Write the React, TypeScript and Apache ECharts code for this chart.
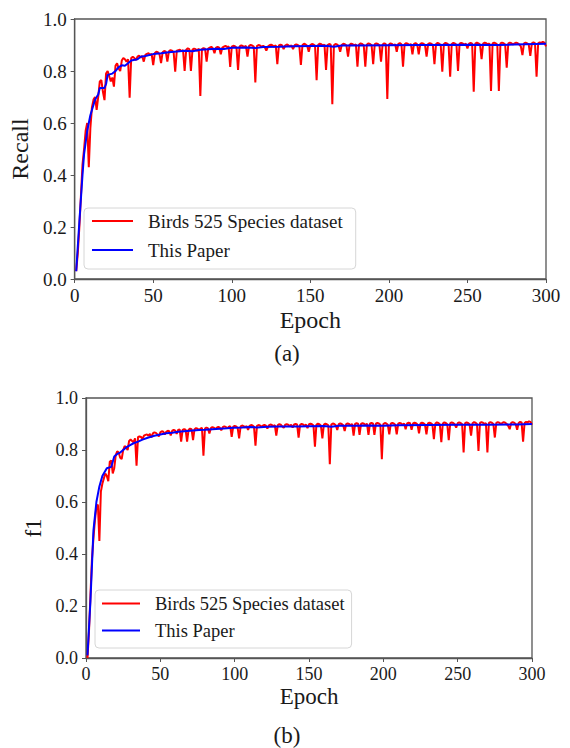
import React, { useEffect, useRef } from "react";
import * as echarts from "echarts";

const FONT = "Liberation Serif";

const seriesNames = ["Birds 525 Species dataset", "This Paper"];
const panelLabels = ["(a)", "(b)"];
const yNames = ["Recall", "f1"];
const xName = "Epoch";

// Recall, Birds 525 Species dataset (epochs 1..300)
const recallBirds = [
  0.03, 0.10, 0.20, 0.32, 0.44, 0.50, 0.57, 0.60, 0.43, 0.58,
  0.66, 0.69, 0.70, 0.65, 0.70, 0.76, 0.765, 0.72, 0.688, 0.79,
  0.80, 0.78, 0.76, 0.775, 0.74, 0.82, 0.83, 0.81, 0.80, 0.84,
  0.85, 0.845, 0.836, 0.845, 0.697, 0.85, 0.855, 0.85, 0.842, 0.855,
  0.859, 0.852, 0.858, 0.836, 0.862, 0.866, 0.868, 0.862, 0.866, 0.823,
  0.868, 0.874, 0.872, 0.865, 0.830, 0.872, 0.877, 0.874, 0.836, 0.876,
  0.880, 0.878, 0.872, 0.797, 0.878, 0.880, 0.882, 0.876, 0.880, 0.800,
  0.882, 0.887, 0.884, 0.800, 0.882, 0.886, 0.884, 0.878, 0.886, 0.704,
  0.884, 0.888, 0.886, 0.836, 0.886, 0.890, 0.893, 0.887, 0.868, 0.890,
  0.893, 0.890, 0.864, 0.890, 0.894, 0.897, 0.892, 0.895, 0.816, 0.894,
  0.897, 0.895, 0.890, 0.804, 0.895, 0.898, 0.896, 0.892, 0.897, 0.855,
  0.897, 0.900, 0.898, 0.894, 0.756, 0.896, 0.900, 0.898, 0.893, 0.897,
  0.892, 0.878, 0.894, 0.899, 0.901, 0.898, 0.894, 0.899, 0.826, 0.898,
  0.901, 0.899, 0.884, 0.898, 0.902, 0.899, 0.895, 0.899, 0.884, 0.899,
  0.902, 0.900, 0.896, 0.823, 0.900, 0.905, 0.902, 0.897, 0.874, 0.900,
  0.904, 0.902, 0.897, 0.765, 0.901, 0.905, 0.903, 0.898, 0.902, 0.804,
  0.900, 0.904, 0.901, 0.672, 0.899, 0.904, 0.902, 0.897, 0.874, 0.900,
  0.905, 0.903, 0.898, 0.855, 0.901, 0.905, 0.903, 0.899, 0.903, 0.817,
  0.902, 0.906, 0.904, 0.899, 0.817, 0.902, 0.906, 0.904, 0.899, 0.826,
  0.903, 0.906, 0.904, 0.899, 0.836, 0.902, 0.906, 0.904, 0.692, 0.902,
  0.906, 0.904, 0.899, 0.903, 0.874, 0.904, 0.907, 0.903, 0.817, 0.903,
  0.907, 0.905, 0.900, 0.904, 0.864, 0.904, 0.907, 0.903, 0.864, 0.904,
  0.907, 0.905, 0.900, 0.855, 0.904, 0.907, 0.905, 0.900, 0.826, 0.904,
  0.908, 0.905, 0.900, 0.797, 0.904, 0.908, 0.906, 0.901, 0.778, 0.904,
  0.908, 0.906, 0.901, 0.800, 0.905, 0.908, 0.906, 0.901, 0.905, 0.887,
  0.905, 0.908, 0.905, 0.720, 0.905, 0.909, 0.906, 0.902, 0.846, 0.905,
  0.909, 0.907, 0.902, 0.906, 0.723, 0.906, 0.909, 0.906, 0.902, 0.723,
  0.906, 0.909, 0.907, 0.902, 0.813, 0.906, 0.909, 0.907, 0.902, 0.906,
  0.909, 0.907, 0.902, 0.895, 0.861, 0.906, 0.909, 0.906, 0.902, 0.858,
  0.906, 0.910, 0.907, 0.778, 0.906, 0.910, 0.908, 0.912, 0.909, 0.895,
];

// Recall, This Paper
const recallPaperEpochs = [
  1, 3, 5, 6, 8, 10, 11, 13, 15, 16, 19, 20, 21, 24, 26, 28, 30, 32, 34, 36,
  40, 42, 45, 50, 55, 60, 65, 70, 75, 80, 85, 90, 95, 100, 110, 115, 120, 130,
  140, 150, 160, 165, 170, 180, 200, 220, 250, 270, 280, 300,
];
const recallPaperValues = [
  0.03, 0.22, 0.40, 0.48, 0.57, 0.63, 0.65, 0.69, 0.71, 0.735, 0.735, 0.75, 0.785, 0.79, 0.80, 0.815, 0.822, 0.82, 0.83, 0.84,
  0.845, 0.855, 0.858, 0.865, 0.868, 0.872, 0.875, 0.878, 0.876, 0.882, 0.884, 0.886, 0.885, 0.889, 0.890, 0.888, 0.892, 0.893,
  0.895, 0.896, 0.897, 0.893, 0.898, 0.898, 0.899, 0.900, 0.901, 0.900, 0.902, 0.905,
];

// f1, Birds 525 Species dataset (epochs 1..300)
const f1Birds = [
  0.00, 0.10, 0.24, 0.38, 0.46, 0.53, 0.58, 0.59, 0.45, 0.64,
  0.67, 0.69, 0.71, 0.70, 0.68, 0.755, 0.76, 0.71, 0.73, 0.78,
  0.795, 0.79, 0.77, 0.765, 0.80, 0.815, 0.81, 0.80, 0.835, 0.84,
  0.835, 0.83, 0.845, 0.74, 0.85, 0.852, 0.85, 0.843, 0.855, 0.858,
  0.860, 0.855, 0.862, 0.848, 0.864, 0.868, 0.866, 0.860, 0.852, 0.868,
  0.872, 0.870, 0.860, 0.870, 0.874, 0.872, 0.856, 0.874, 0.877, 0.874,
  0.862, 0.877, 0.879, 0.832, 0.877, 0.880, 0.878, 0.832, 0.878, 0.882,
  0.880, 0.838, 0.880, 0.884, 0.882, 0.876, 0.882, 0.885, 0.778, 0.882,
  0.886, 0.884, 0.864, 0.884, 0.888, 0.886, 0.880, 0.886, 0.889, 0.886,
  0.876, 0.888, 0.891, 0.889, 0.883, 0.889, 0.892, 0.851, 0.889, 0.893,
  0.891, 0.885, 0.845, 0.891, 0.894, 0.892, 0.887, 0.892, 0.877, 0.893,
  0.896, 0.894, 0.889, 0.817, 0.893, 0.896, 0.894, 0.889, 0.894, 0.897,
  0.894, 0.882, 0.895, 0.898, 0.896, 0.891, 0.896, 0.855, 0.896, 0.899,
  0.897, 0.891, 0.885, 0.897, 0.899, 0.897, 0.892, 0.897, 0.886, 0.898,
  0.900, 0.898, 0.848, 0.897, 0.900, 0.898, 0.893, 0.898, 0.884, 0.899,
  0.901, 0.899, 0.894, 0.813, 0.898, 0.901, 0.899, 0.894, 0.845, 0.898,
  0.901, 0.899, 0.895, 0.745, 0.898, 0.902, 0.900, 0.895, 0.877, 0.899,
  0.902, 0.900, 0.895, 0.873, 0.899, 0.902, 0.900, 0.895, 0.900, 0.855,
  0.900, 0.903, 0.901, 0.858, 0.900, 0.903, 0.901, 0.896, 0.901, 0.858,
  0.901, 0.904, 0.902, 0.858, 0.901, 0.904, 0.902, 0.897, 0.765, 0.900,
  0.904, 0.902, 0.897, 0.860, 0.901, 0.904, 0.902, 0.897, 0.860, 0.901,
  0.904, 0.902, 0.897, 0.902, 0.880, 0.902, 0.905, 0.903, 0.878, 0.902,
  0.905, 0.903, 0.898, 0.864, 0.902, 0.905, 0.903, 0.898, 0.860, 0.902,
  0.905, 0.903, 0.898, 0.842, 0.902, 0.906, 0.904, 0.899, 0.830, 0.902,
  0.906, 0.904, 0.899, 0.838, 0.903, 0.906, 0.904, 0.899, 0.886, 0.903,
  0.906, 0.904, 0.899, 0.791, 0.903, 0.906, 0.904, 0.899, 0.855, 0.903,
  0.907, 0.905, 0.900, 0.796, 0.904, 0.907, 0.905, 0.900, 0.904, 0.791,
  0.904, 0.907, 0.905, 0.900, 0.848, 0.904, 0.907, 0.905, 0.900, 0.904,
  0.907, 0.905, 0.900, 0.893, 0.880, 0.904, 0.907, 0.905, 0.900, 0.878,
  0.904, 0.908, 0.906, 0.832, 0.904, 0.908, 0.906, 0.910, 0.908, 0.897,
];

// f1, This Paper
const f1PaperEpochs = [
  1, 3, 5, 7, 9, 11, 14, 17, 19, 21, 23, 25, 27, 30, 32, 35, 38, 42, 46, 50,
  54, 58, 62, 66, 70, 76, 80, 85, 90, 95, 99, 105, 110, 115, 122, 130, 142, 150,
  160, 165, 170, 180, 190, 200, 210, 230, 250, 270, 290, 300,
];
const f1PaperValues = [
  0.01, 0.22, 0.49, 0.60, 0.66, 0.70, 0.73, 0.735, 0.775, 0.785, 0.79, 0.80, 0.81, 0.82, 0.826, 0.832, 0.84, 0.848, 0.855, 0.86,
  0.864, 0.866, 0.870, 0.872, 0.874, 0.877, 0.878, 0.880, 0.882, 0.884, 0.886, 0.887, 0.888, 0.887, 0.889, 0.890, 0.890, 0.891,
  0.892, 0.889, 0.893, 0.893, 0.894, 0.893, 0.895, 0.896, 0.897, 0.897, 0.898, 0.900,
];

const RED = "#ff0000";
const BLUE = "#0000ff";
const AXIS = "#555555";
const TXT = "#1a1a1a";

export default function App() {
  const ref = useRef<HTMLDivElement>(null);

  useEffect(() => {
    if (!ref.current) return;
    const chart = echarts.init(ref.current, undefined, { renderer: "svg" });

    const grids = [
      { left: 74, top: 19, width: 472, height: 260 },
      { left: 86, top: 398, width: 446, height: 260 },
    ];
    const tickSize = [19, 18];
    const nameSize = [24, 23];
    const legendSize = [19, 18.5];

    const xAxis = [0, 1].map((i) => ({
      gridIndex: i,
      type: "value",
      min: 0,
      max: 300,
      interval: 50,
      name: xName,
      nameLocation: "middle",
      nameGap: i === 0 ? 29 : 27,
      nameTextStyle: { fontFamily: FONT, fontSize: nameSize[i], color: TXT },
      axisLine: { show: true, onZero: false, lineStyle: { color: AXIS, width: 1.3 } },
      axisTick: { show: true, inside: false, length: 4, lineStyle: { color: AXIS, width: 1 } },
      axisLabel: { fontFamily: FONT, fontSize: tickSize[i], color: TXT, margin: 7 },
      splitLine: { show: false },
    }));

    const yAxis = [0, 1].map((i) => ({
      gridIndex: i,
      type: "value",
      min: 0,
      max: 1,
      interval: 0.2,
      name: yNames[i],
      nameLocation: "middle",
      nameGap: 34,
      nameTextStyle: { fontFamily: FONT, fontSize: nameSize[i], color: TXT },
      axisLine: { show: true, onZero: false, lineStyle: { color: AXIS, width: 1.3 } },
      axisTick: { show: true, inside: false, length: 4, lineStyle: { color: AXIS, width: 1 } },
      axisLabel: {
        fontFamily: FONT,
        fontSize: tickSize[i],
        color: TXT,
        margin: 8,
        formatter: (v: number) => v.toFixed(1),
      },
      splitLine: { show: false },
    }));

    const mk = (name: string, color: string, data: number[][], idx: number) => ({
      name,
      type: "line",
      xAxisIndex: idx,
      yAxisIndex: idx,
      data,
      showSymbol: false,
      symbol: "none",
      itemStyle: { color },
      lineStyle: { color, width: 2 },
      emphasis: { disabled: true },
    });

    const recallRed = recallBirds.map((v, i) => [i + 1, v]);
    const recallBlue = recallPaperEpochs.map((e, i) => [e, recallPaperValues[i]]);
    const f1Red = f1Birds.map((v, i) => [i + 1, v]);
    const f1Blue = f1PaperEpochs.map((e, i) => [e, f1PaperValues[i]]);

    const legendBase = (i: number) => ({
      orient: "vertical",
      data: seriesNames,
      icon: "rect",
      selectedMode: false,
      borderColor: "#d6d6d6",
      borderWidth: 1,
      borderRadius: 4,
      backgroundColor: "rgba(255,255,255,0.85)",
      textStyle: {
        fontFamily: FONT,
        fontSize: legendSize[i],
        color: TXT,
        lineHeight: i === 0 ? 22 : 21,
        padding: [0, 0, 0, 10],
      },
    });

    chart.setOption({
      animation: false,
      backgroundColor: "#ffffff",
      textStyle: { fontFamily: FONT, color: TXT },
      grid: grids.map((g) => ({
        ...g,
        show: true,
        borderColor: AXIS,
        borderWidth: 1.3,
        backgroundColor: "transparent",
        containLabel: false,
      })),
      xAxis,
      yAxis,
      legend: [
        {
          ...legendBase(0),
          left: 84,
          top: 208,
          itemWidth: 41,
          itemHeight: 2,
          itemGap: 7,
          padding: [2, 13, 8, 8],
        },
        {
          ...legendBase(1),
          left: 95,
          top: 590,
          itemWidth: 38,
          itemHeight: 2,
          itemGap: 6,
          padding: [3, 7, 7, 7],
        },
      ],
      series: [
        mk(seriesNames[0], RED, recallRed, 0),
        mk(seriesNames[1], BLUE, recallBlue, 0),
        mk(seriesNames[0], RED, f1Red, 1),
        mk(seriesNames[1], BLUE, f1Blue, 1),
      ],
      graphic: [
        {
          type: "text",
          x: 287,
          y: 353,
          style: {
            text: panelLabels[0],
            fontFamily: FONT,
            fontSize: 23,
            fill: TXT,
            align: "center",
            verticalAlign: "middle",
          },
        },
        {
          type: "text",
          x: 287,
          y: 735,
          style: {
            text: panelLabels[1],
            fontFamily: FONT,
            fontSize: 23,
            fill: TXT,
            align: "center",
            verticalAlign: "middle",
          },
        },
      ],
    });

    return () => chart.dispose();
  }, []);

  return (
    <div
      ref={ref}
      style={{ position: "fixed", left: 0, top: 0, width: 570, height: 748, background: "#fff" }}
    />
  );
}
